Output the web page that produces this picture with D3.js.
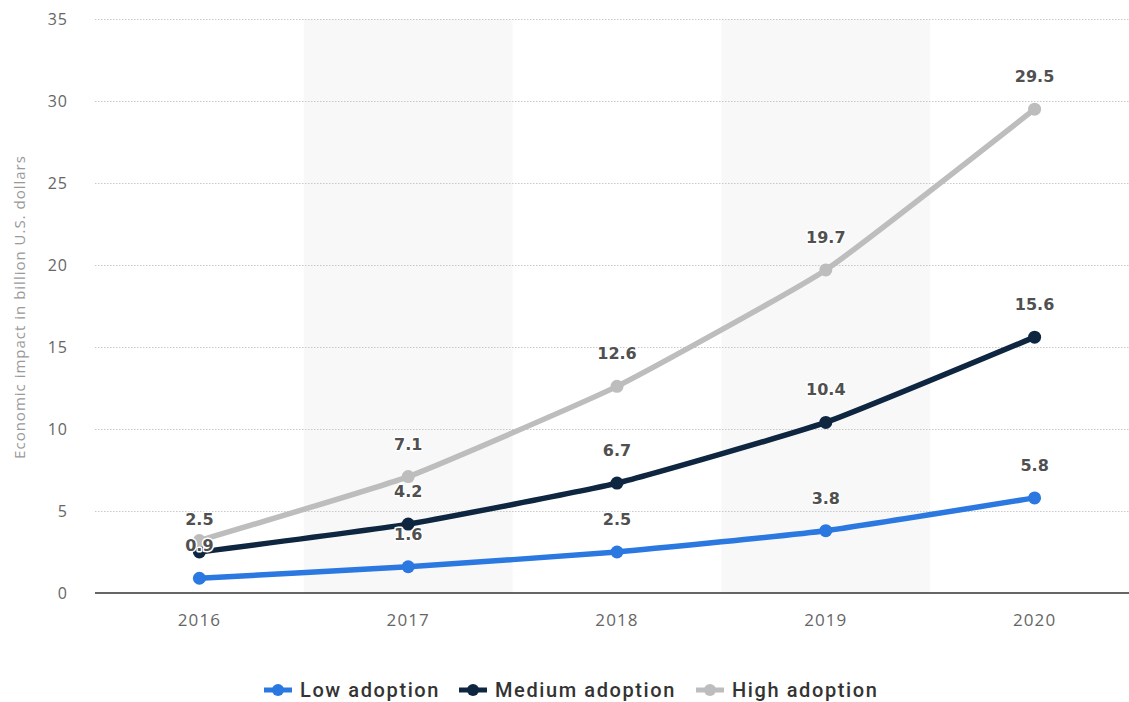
<!DOCTYPE html>
<html>
<head>
<meta charset="utf-8">
<script src="https://cdnjs.cloudflare.com/ajax/libs/d3/7.8.5/d3.min.js"></script>
<style>
  html, body { margin: 0; padding: 0; background: #fff; }
  svg { display: block; }
</style>
</head>
<body>
<svg id="chart" width="1129" height="702"></svg>
<script>
// Economic impact by adoption scenario, billion U.S. dollars
const years = ["2016", "2017", "2018", "2019", "2020"];
const lowAdoption = [0.9, 1.6, 2.5, 3.8, 5.8];
const mediumAdoption = [2.5, 4.2, 6.7, 10.4, 15.6];
const highAdoption = [3.2, 7.1, 12.6, 19.7, 29.5];
const yTicks = [0, 5, 10, 15, 20, 25, 30, 35];
const seriesNames = ["Low adoption", "Medium adoption", "High adoption"];
const yTitle = "Economic impact in billion U.S. dollars";

const colors = { "Low adoption": "#2a78e0", "Medium adoption": "#0e2640", "High adoption": "#bdbdbd" };
const series = [
  { name: seriesNames[0], values: lowAdoption },
  { name: seriesNames[1], values: mediumAdoption },
  { name: seriesNames[2], values: highAdoption }
];

const svg = d3.select("#chart");
const plotLeft = 95, plotRight = 1139, plotTop = 19, plotBottom = 593;

const x = d3.scaleBand().domain(years).range([plotLeft, plotRight]).padding(0);
const y = d3.scaleLinear().domain([0, 35]).range([plotBottom, plotTop]);
const cx = d => x(d) + x.bandwidth() / 2;

// alternating column shading
svg.append("g").selectAll("rect")
  .data(years.filter((d, i) => i % 2 === 1))
  .join("rect")
  .attr("x", d => x(d)).attr("y", plotTop)
  .attr("width", x.bandwidth()).attr("height", plotBottom - plotTop)
  .attr("fill", "#f8f8f8");

// horizontal grid
svg.append("g").selectAll("line")
  .data(yTicks.filter(t => t > 0))
  .join("line")
  .attr("x1", plotLeft).attr("x2", 1129)
  .attr("y1", d => Math.round(y(d)) + 0.5).attr("y2", d => Math.round(y(d)) + 0.5)
  .attr("stroke", "#c8c8c8").attr("stroke-width", 1)
  .attr("stroke-dasharray", "1.5,1.5");

// y axis labels
const yAxis = d3.axisLeft(y).tickValues(yTicks).tickSize(0).tickPadding(0);
const yg = svg.append("g").attr("transform", "translate(68,4)").call(yAxis);
yg.select(".domain").remove();
yg.selectAll("text")
  .attr("fill", "#666").attr("font-family", "'Open Sans', sans-serif")
  .attr("font-size", 16).attr("letter-spacing", "1px").attr("dy", "0.1em");

// baseline
svg.append("line")
  .attr("x1", plotLeft).attr("x2", 1129)
  .attr("y1", y(0)).attr("y2", y(0))
  .attr("stroke", "#333").attr("stroke-width", 1.5);

// x axis labels
const xAxis = d3.axisBottom(x).tickSize(0).tickPadding(0);
const xg = svg.append("g").attr("transform", `translate(0,${plotBottom + 21})`).call(xAxis);
xg.select(".domain").remove();
xg.selectAll("text")
  .attr("fill", "#666").attr("font-family", "'Open Sans', sans-serif")
  .attr("font-size", 17).attr("letter-spacing", "1.1px");

// y axis title
svg.append("text")
  .attr("transform", `translate(25,${(plotTop + plotBottom) / 2 + 1}) rotate(-90)`)
  .attr("text-anchor", "middle")
  .attr("fill", "#999").attr("font-family", "'Open Sans', sans-serif")
  .attr("font-size", 15).attr("letter-spacing", "1px")
  .text(yTitle);

// lines and markers
const line = d3.line()
  .x((v, i) => cx(years[i]))
  .y(v => y(v))
  .curve(d3.curveCardinal.tension(0.6));

const plot = svg.append("g");
series.forEach(s => {
  plot.append("path")
    .attr("d", line(s.values))
    .attr("fill", "none")
    .attr("stroke", colors[s.name])
    .attr("stroke-width", 5.5)
    .attr("stroke-linejoin", "round").attr("stroke-linecap", "round");
  plot.append("g").selectAll("circle")
    .data(s.values)
    .join("circle")
    .attr("cx", (v, i) => cx(years[i]))
    .attr("cy", v => y(v))
    .attr("r", 6.5)
    .attr("fill", colors[s.name]);
});

// value labels; a label that would collide with one already placed is skipped
const placed = [];
const labels = svg.append("g")
  .attr("font-family", "'DejaVu Sans', sans-serif")
  .attr("font-weight", "bold")
  .attr("font-size", 16)
  .attr("text-anchor", "middle");
series.forEach(s => {
  s.values.forEach((v, i) => {
    const lx = cx(years[i]);
    const ly = y(v) - 27;
    const t = labels.append("text")
      .attr("x", lx).attr("y", ly)
      .attr("fill", "#505050")
      .attr("stroke", "#fff").attr("stroke-width", 3)
      .attr("stroke-linejoin", "round")
      .attr("paint-order", "stroke")
      .text(v.toFixed(1));
    const b = t.node().getBBox();
    const box = { x0: b.x, x1: b.x + b.width, y0: b.y + 3, y1: b.y + b.height - 3 };
    const hit = placed.some(p => box.x0 < p.x1 && box.x1 > p.x0 && box.y0 < p.y1 && box.y1 > p.y0);
    if (hit) t.remove(); else placed.push(box);
  });
});

// legend
const legend = svg.append("g").attr("transform", "translate(0,690)");
const legendX = [264, 459, 696];
series.forEach((s, i) => {
  const g = legend.append("g").attr("transform", `translate(${legendX[i]},0)`);
  g.append("line").attr("x1", 0).attr("x2", 28).attr("y1", 0).attr("y2", 0)
    .attr("stroke", colors[s.name]).attr("stroke-width", 5);
  g.append("circle").attr("cx", 14).attr("cy", 0).attr("r", 6).attr("fill", colors[s.name]);
  g.append("text").attr("x", 36).attr("y", 0).attr("dy", "0.35em")
    .attr("fill", "#333").attr("font-family", "Roboto, sans-serif")
    .attr("font-weight", 500).attr("font-size", 20).attr("letter-spacing", "1.6px")
    .text(s.name);
});
</script>
</body>
</html>
